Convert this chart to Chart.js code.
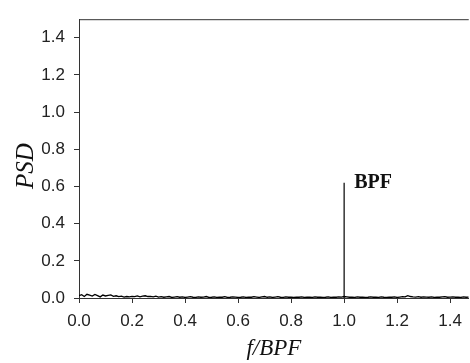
<!DOCTYPE html>
<html>
<head>
<meta charset="utf-8">
<script src="https://cdn.jsdelivr.net/npm/chart.js@4"></script>
<style>
  html, body { margin: 0; padding: 0; background: #fff; overflow: hidden; }
  #wrap { width: 470px; height: 363px; }
</style>
</head>
<body>
<div id="wrap"><canvas id="psdChart" width="470" height="363"></canvas></div>
<script>
// spectrum, one value per 0.01 of f/BPF (0.00 .. 1.47)
const freqStep = 0.01;
const psdNoise = [
    0.012, 0.018, 0.008, 0.020, 0.015, 0.010, 0.019, 0.013, 0.006, 0.016, 0.011,
    0.014, 0.017, 0.009, 0.012, 0.007, 0.010, 0.005, 0.008, 0.006, 0.009,
    0.007, 0.011, 0.006, 0.010, 0.012, 0.008, 0.009, 0.006, 0.010, 0.005,
    0.007, 0.004, 0.006, 0.008, 0.003, 0.005, 0.007, 0.004, 0.006, 0.003,
    0.005, 0.007, 0.004, 0.003, 0.006, 0.004, 0.005, 0.008, 0.003, 0.004,
    0.006, 0.003, 0.005, 0.004, 0.007, 0.003, 0.004, 0.006, 0.005, 0.003,
    0.004, 0.006, 0.003, 0.005, 0.004, 0.007, 0.005, 0.003, 0.006, 0.008,
    0.004, 0.006, 0.003, 0.005, 0.007, 0.004, 0.003, 0.006, 0.004, 0.005,
    0.003, 0.005, 0.004, 0.006, 0.003, 0.004, 0.005, 0.003, 0.006, 0.004,
    0.005, 0.003, 0.004, 0.006, 0.003, 0.005, 0.004, 0.006, 0.005, 0.008,
    0.006, 0.004, 0.005, 0.003, 0.006, 0.004, 0.005, 0.003, 0.004, 0.006,
    0.004, 0.005, 0.003, 0.006, 0.004, 0.003, 0.005, 0.004, 0.006, 0.003,
    0.005, 0.007, 0.006, 0.013, 0.008, 0.006, 0.005, 0.007, 0.004, 0.006,
    0.005, 0.004, 0.006, 0.003, 0.005, 0.004, 0.006, 0.007, 0.004, 0.005,
    0.006, 0.004, 0.005, 0.003, 0.006, 0.004, 0.005
];

// blade passing frequency peak
const peakFreq = [1.0, 1.0];
const peakPsd = [0.0, 0.62];
const peakLabel = "BPF";

const xTicks = [0.0, 0.2, 0.4, 0.6, 0.8, 1.0, 1.2, 1.4];
const yTicks = [0.0, 0.2, 0.4, 0.6, 0.8, 1.0, 1.2, 1.4];

var noisePoints = psdNoise.map(function (v, i) {
    return { x: +(i * freqStep).toFixed(2), y: v };
});
var peakPoints = peakFreq.map(function (f, i) {
    return { x: f, y: peakPsd[i] };
});

var axisColor = "#333";

// frame on top + the BPF tag + y title
var extras = {
    id: "extras",
    afterDraw: function (chart) {
        var ctx = chart.ctx;
        var area = chart.chartArea;
        var xs = chart.scales.x, ys = chart.scales.y;
        ctx.save();
        ctx.strokeStyle = axisColor;
        ctx.lineWidth = 1;
        ctx.beginPath();
        ctx.moveTo(area.left, area.top + 0.5);
        ctx.lineTo(area.right, area.top + 0.5);
        ctx.stroke();

        ctx.fillStyle = "#111";
        ctx.font = "bold 20px 'Liberation Serif', serif";
        ctx.textBaseline = "alphabetic";
        ctx.fillText(peakLabel, xs.getPixelForValue(peakFreq[1]) + 10, ys.getPixelForValue(peakPsd[1]) + 5);

        ctx.translate(33, 166);
        ctx.rotate(-Math.PI / 2);
        ctx.textAlign = "center";
        ctx.font = "italic 25px 'Liberation Serif', serif";
        ctx.fillText("PSD", 0, 0);
        ctx.restore();
    }
};

var ctx = document.getElementById('psdChart');
var psdChart = new Chart(ctx, {
    type: 'line',
    data: {
        datasets: [
            {
                label: "noise",
                data: noisePoints,
                borderColor: "#000",
                borderWidth: 1.3,
                pointRadius: 0,
                fill: false,
                tension: 0
            },
            {
                label: "peak",
                data: peakPoints,
                borderColor: "#000",
                borderWidth: 1.2,
                pointRadius: 0,
                fill: false
            }
        ]
    },
    options: {
        responsive: false,
        animation: false,
        layout: { padding: { top: 10, right: 0, left: 0, bottom: 0 } },
        plugins: {
            legend: { display: false },
            tooltip: { enabled: false }
        },
        scales: {
            x: {
                type: 'linear',
                min: 0,
                max: 1.47,
                afterBuildTicks: function (scale) {
                    scale.ticks = xTicks.map(function (v) { return { value: v }; });
                },
                afterFit: function (scale) { scale.height = 65; },
                ticks: {
                    color: "#222",
                    font: { family: "'Liberation Sans', Arial, sans-serif", size: 17 },
                    padding: 8,
                    maxRotation: 0,
                    callback: function (v) { return Number(v).toFixed(1); }
                },
                grid: { display: true, drawOnChartArea: false, drawTicks: true, tickLength: 5, color: axisColor },
                border: { display: true, color: axisColor, width: 1 },
                title: {
                    display: true,
                    text: "f/BPF",
                    color: "#111",
                    font: { family: "'Liberation Serif', serif", size: 23, style: "italic" },
                    padding: { top: 0, bottom: 0 }
                }
            },
            y: {
                type: 'linear',
                min: 0,
                max: 1.5,
                afterBuildTicks: function (scale) {
                    scale.ticks = yTicks.map(function (v) { return { value: v }; });
                },
                afterFit: function (scale) { scale.width = 79; },
                ticks: {
                    color: "#222",
                    font: { family: "'Liberation Sans', Arial, sans-serif", size: 17 },
                    padding: 9,
                    callback: function (v) { return Number(v).toFixed(1); }
                },
                grid: { display: true, drawOnChartArea: false, drawTicks: true, tickLength: 5, color: axisColor },
                border: { display: true, color: axisColor, width: 1 }
            }
        }
    },
    plugins: [extras]
});
</script>
</body>
</html>
